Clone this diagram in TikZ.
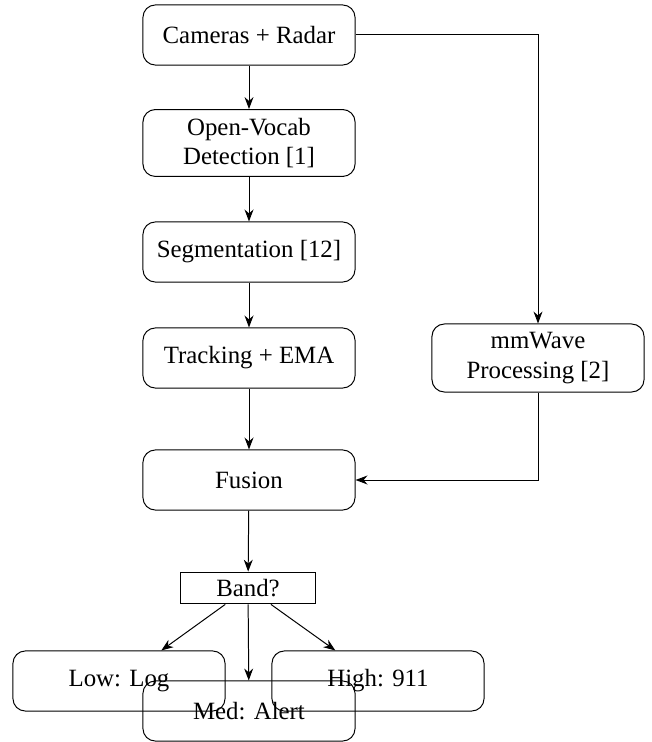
\documentclass[tikz,border=0pt]{standalone}
\usepackage{fontspec}
\setmainfont{Liberation Serif}
\usetikzlibrary{arrows.meta}
\begin{document}
\begin{tikzpicture}[x=0.01415cm,y=-0.01415cm,
    block/.style={draw,rounded corners=5pt,minimum width=3cm,minimum height=0.85cm,align=center,font=\fontsize{10}{12}\selectfont},
    choice/.style={draw,minimum width=1.92cm,minimum height=0.45cm,inner sep=1pt,font=\fontsize{10}{12}\selectfont},
    >=Stealth]
      \useasboundingbox (0,0) rectangle (651,742);
      \draw
        (249,35) node[block] (sensors){Cameras + Radar}
        (249,143) node[block] (detect){Open-Vocab\\Detection [1]}
        (249,252) node[block] (segment){Segmentation [12]}
        (249,358) node[block] (track){Tracking + EMA}
        (538,358) node[block] (radar){mmWave\\Processing [2]}
        (249,480) node[block] (fusion){Fusion}
        (248,588) node[choice] (band){Band?}
        (119,681) node[block] (low){Low: Log}
        (249,711) node[block] (med){Med: Alert}
        (378,681) node[block] (high){High: 911};
      \begin{scope}[->]
        \draw (sensors) to (detect);
        \draw (detect) to (segment);
        \draw (segment) to (track);
        \draw (track) to (fusion);
        \draw (sensors.east) -| (radar.north);
        \draw (radar.south) |- (fusion.east);
        \draw (fusion) to (band);
        \draw (band) to (low);
        \draw (band) to (med);
        \draw (band) to (high);
      \end{scope}
    \end{tikzpicture}
\end{document}
